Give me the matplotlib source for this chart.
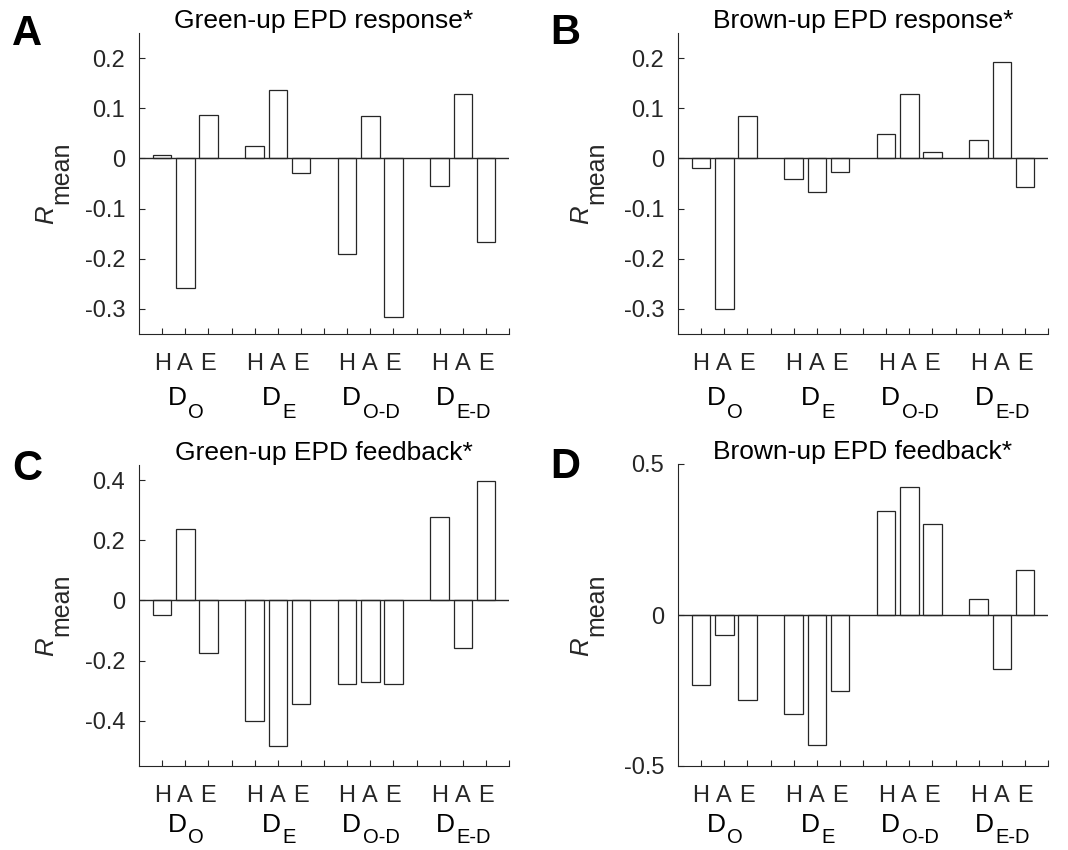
import numpy as np
import matplotlib
matplotlib.use('Agg')
import matplotlib.pyplot as plt

plt.rcParams['font.family'] = ['Liberation Sans', 'DejaVu Sans']
plt.rcParams['axes.unicode_minus'] = False

# data: order within each group is H, A, E
groups = ['O', 'E', 'O-D', 'E-D']
letters = ['H', 'A', 'E']

green_response = [0.007, -0.259, 0.086, 0.025, 0.136, -0.030,
                  -0.190, 0.084, -0.316, -0.054, 0.129, -0.166]
brown_response = [-0.019, -0.300, 0.084, -0.041, -0.067, -0.028,
                  0.049, 0.128, 0.013, 0.037, 0.192, -0.056]
green_feedback = [-0.050, 0.236, -0.173, -0.400, -0.483, -0.343,
                  -0.278, -0.272, -0.278, 0.278, -0.159, 0.396]
brown_feedback = [-0.233, -0.067, -0.283, -0.328, -0.432, -0.250,
                  0.344, 0.425, 0.302, 0.052, -0.180, 0.148]

titles = ['Green-up EPD response*', 'Brown-up EPD response*',
          'Green-up EPD feedback*', 'Brown-up EPD feedback*']
panel_letters = ['A', 'B', 'C', 'D']
series = [green_response, brown_response, green_feedback, brown_feedback]
ylims = [(-0.35, 0.25), (-0.35, 0.25), (-0.55, 0.45), (-0.5, 0.5)]
yticks = [[-0.3, -0.2, -0.1, 0, 0.1, 0.2], [-0.3, -0.2, -0.1, 0, 0.1, 0.2],
          [-0.4, -0.2, 0, 0.2, 0.4], [-0.5, 0, 0.5]]
yticklabels = [['-0.3', '-0.2', '-0.1', '0', '0.1', '0.2'],
               ['-0.3', '-0.2', '-0.1', '0', '0.1', '0.2'],
               ['-0.4', '-0.2', '0', '0.2', '0.4'],
               ['-0.5', '0', '0.5']]

W, H = 1068, 850
# axes boxes in pixels: left, top, right, bottom
boxes = [(139, 33, 509, 334), (678, 33, 1048, 334),
         (139, 465, 509, 766), (678, 464, 1048, 766)]
letter_pos = [(27, 34), (565, 33), (27, 469), (565, 467)]
ylab_x = [-86, -90, -86, -90]   # px from axes left to baseline of R
dlab_y = [71, 71, 66, 66]       # px below axes to baseline of D
sub_drop = [13, 13, 11, 11]     # px the subscript sits below D

dark = '#262626'
px = 72 / 100.  # pixels -> points

# rough Liberation Sans advance widths, for centring D + subscript
cw = {'D': 0.722, 'O': 0.778, 'E': 0.667, '-': 0.333}
fsD, fsS = 19, 14.5

fig = plt.figure(figsize=(W / 100, H / 100), dpi=100)

x = np.array([1, 2, 3, 5, 6, 7, 9, 10, 11, 13, 14, 15])
for i in range(4):
    l, t, r, b = boxes[i]
    ax = fig.add_axes([l / W, 1 - b / H, (r - l) / W, (b - t) / H])
    ax.bar(x, series[i], width=0.8, color='white', edgecolor=dark, linewidth=0.9, zorder=2)
    ax.axhline(0, color=dark, linewidth=1.0, zorder=3)
    ax.set_xlim(0, 16)
    ax.set_ylim(*ylims[i])
    ax.set_xticks(np.arange(1, 17))
    ax.set_xticklabels([])
    ax.set_yticks(yticks[i])
    ax.set_yticklabels(yticklabels[i])
    ax.tick_params(direction='in', length=4, width=0.8, color=dark,
                   labelcolor=dark, labelsize=17)
    ax.tick_params(axis='y', pad=10)
    for s in ['top', 'right']:
        ax.spines[s].set_visible(False)
    for s in ['left', 'bottom']:
        ax.spines[s].set_color(dark)
        ax.spines[s].set_linewidth(0.8)

    # y label: italic R with a large, low "mean" subscript
    ax.annotate('R', xy=(0, 0.5), xycoords='axes fraction',
                xytext=(ylab_x[i] * px, -16), textcoords='offset points',
                rotation=90, rotation_mode='anchor', ha='right', va='baseline',
                fontsize=18.5, fontstyle='italic', color=dark)
    ax.annotate('mean', xy=(0, 0.5), xycoords='axes fraction',
                xytext=((ylab_x[i] + 15) * px, -15), textcoords='offset points',
                rotation=90, rotation_mode='anchor', ha='left', va='baseline',
                fontsize=18, color=dark)

    trans = ax.get_xaxis_transform()
    for g in range(4):
        for k in range(3):
            ax.text(x[g * 3 + k], -30 / (b - t), letters[k], transform=trans,
                    ha='center', va='center', fontsize=17, color=dark)
        wD = cw['D'] * fsD
        wS = sum(cw[c] for c in groups[g]) * fsS
        off = (wD - wS) / 2
        yb = -dlab_y[i] / (b - t)
        ax.annotate('D', xy=(x[g * 3 + 1], yb), xycoords=trans,
                    xytext=(off, 0), textcoords='offset points',
                    ha='right', va='baseline', fontsize=fsD, color='black')
        ax.annotate(groups[g], xy=(x[g * 3 + 1], yb), xycoords=trans,
                    xytext=(off + 1, -sub_drop[i] * px), textcoords='offset points',
                    ha='left', va='baseline', fontsize=fsS, color='black')

    ax.text(0.5, 1 + 12 / (b - t), titles[i], transform=ax.transAxes,
            ha='center', va='center', fontsize=19, color='black')
    fig.text(letter_pos[i][0] / W, 1 - letter_pos[i][1] / H, panel_letters[i],
             ha='center', va='center', fontsize=30, fontweight='bold', color='black')

fig.savefig('out.png', dpi=100)
